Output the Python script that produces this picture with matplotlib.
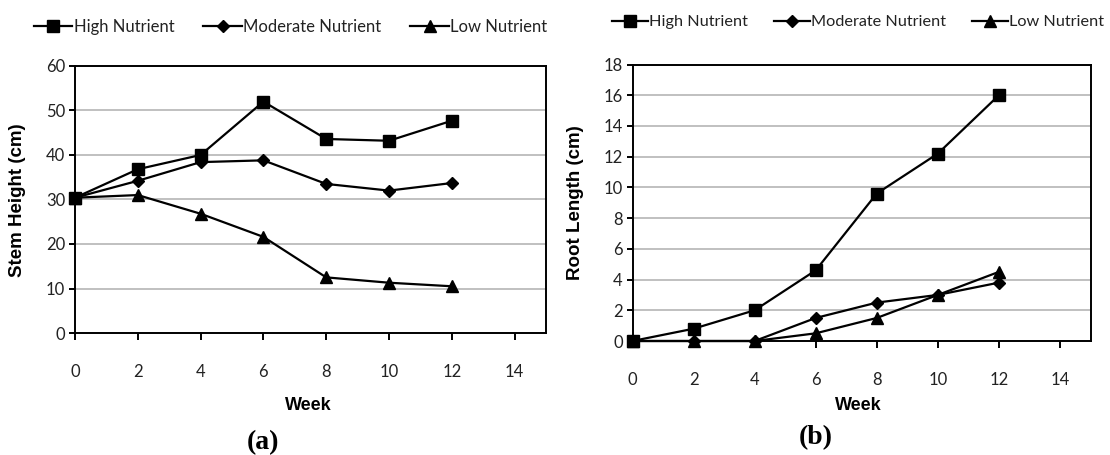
import matplotlib
matplotlib.use("Agg")
import matplotlib.pyplot as plt
from matplotlib.lines import Line2D
from matplotlib.transforms import Bbox, TransformedBbox

# Sampling weeks
weeks = [0, 2, 4, 6, 8, 10, 12]

# (a) Stem height (cm)
stem_high = [30.4, 36.8, 40.0, 52.0, 43.6, 43.2, 47.7]
stem_moderate = [30.4, 34.2, 38.4, 38.8, 33.5, 32.0, 33.7]
stem_low = [30.4, 31.0, 26.8, 21.6, 12.5, 11.3, 10.5]

# (b) Root length (cm)
root_high = [0.0, 0.8, 2.0, 4.6, 9.6, 12.2, 16.0]
root_moderate = [0.0, 0.0, 0.0, 1.5, 2.5, 3.0, 3.8]
root_low = [0.0, 0.0, 0.0, 0.5, 1.5, 3.0, 4.5]

series_names = ["High Nutrient", "Moderate Nutrient", "Low Nutrient"]
x_ticks = [0, 2, 4, 6, 8, 10, 12, 14]
stem_ticks = [0, 10, 20, 30, 40, 50, 60]
root_ticks = [0, 2, 4, 6, 8, 10, 12, 14, 16, 18]

W, H = 1110, 455
fig = plt.figure(figsize=(W / 100, H / 100), dpi=100)
fig.patch.set_facecolor("white")

tick_font = "Lato"
label_font = "Liberation Sans"

styles = [
    dict(marker="s", markersize=8.5),
    dict(marker="D", markersize=6),
    dict(marker="^", markersize=8.5),
]


def px_axes(l, t, r, b):
    return fig.add_axes([l / W, (H - b) / H, (r - l) / W, (b - t) / H])


def style_axes(ax, yticks, ylim):
    ax.set_xlim(0, 15)
    ax.set_ylim(*ylim)
    ax.set_xticks(x_ticks)
    ax.set_yticks(yticks)
    ax.yaxis.grid(True, color="#c0c0c0", linewidth=1.4)
    ax.set_axisbelow(True)
    for s in ax.spines.values():
        s.set_color("black")
        s.set_linewidth(1.4)
    ax.tick_params(axis="y", direction="out", length=4, width=1.4, pad=3,
                   labelsize=12)
    ax.tick_params(axis="x", direction="out", length=5, width=1.4, pad=17,
                   labelsize=12)
    for lab in ax.get_xticklabels() + ax.get_yticklabels():
        lab.set_fontfamily(tick_font)
        lab.set_color("#222222")


def draw_series(ax, data):
    for vals, st in zip(data, styles):
        ax.plot(weeks, vals, color="black", linewidth=1.6,
                markerfacecolor="black", markeredgecolor="black",
                clip_on=False, zorder=3, **st)


def add_legend(x0, yc, size, hlen, colsp):
    handles = [Line2D([], [], color="black", linewidth=1.6,
                      markerfacecolor="black", markeredgecolor="black", **st)
               for st in styles]
    leg = fig.legend(handles, series_names, loc="center left",
                     bbox_to_anchor=(x0 / W, (H - yc) / H), ncol=3,
                     frameon=False, handlelength=hlen, handletextpad=0.08,
                     columnspacing=colsp, borderpad=0, borderaxespad=0,
                     numpoints=1, prop=dict(family=tick_font, size=size))
    for t in leg.get_texts():
        t.set_color("#222222")


# Panel (a)
ax1 = px_axes(75, 66, 546, 333)
style_axes(ax1, stem_ticks, (0, 60))
draw_series(ax1, [stem_high, stem_moderate, stem_low])
fig.text(18 / W, (H - 200) / H, "Stem Height (cm)", rotation=90,
         ha="center", va="center", fontfamily=label_font,
         fontweight="bold", fontsize=13.5)
fig.text(308 / W, (H - 406) / H, "Week", ha="center", va="center",
         fontfamily=label_font, fontweight="bold", fontsize=13)
fig.text(263 / W, (H - 443) / H, "(a)", ha="center", va="center",
         fontfamily="Liberation Serif", fontweight="bold", fontsize=20)
add_legend(34, 27, 12, 2.3, 1.75)

# Panel (b)
ax2 = px_axes(632.5, 64.5, 1090.5, 341)
style_axes(ax2, root_ticks, (0, 18))
draw_series(ax2, [root_high, root_moderate, root_low])
fig.text(575 / W, (H - 203) / H, "Root Length (cm)", rotation=90,
         ha="center", va="center", fontfamily=label_font,
         fontweight="bold", fontsize=13.5)
wk = fig.text(858 / W, (H - 405) / H, "Week", ha="center", va="center",
              fontfamily=label_font, fontweight="bold", fontsize=13)
wk.set_clip_box(TransformedBbox(Bbox([[0, (H - 411) / H], [1, 1]]),
                                fig.transFigure))
wk.set_clip_on(True)
fig.text(816 / W, (H - 438) / H, "(b)", ha="center", va="center",
         fontfamily="Liberation Serif", fontweight="bold", fontsize=20)
add_legend(612, 22, 11.7, 2.2, 1.6)

fig.savefig("out.png", dpi=100, facecolor="white")
